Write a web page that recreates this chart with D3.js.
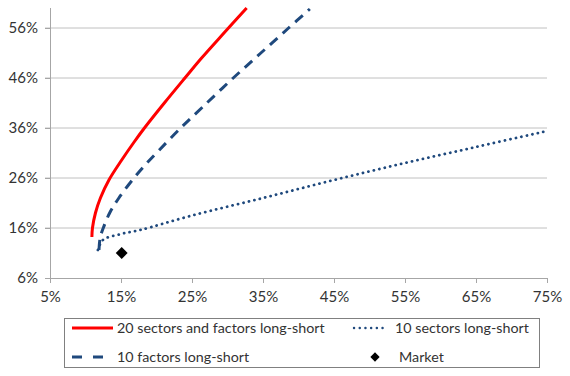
<!DOCTYPE html>
<html>
<head>
<meta charset="utf-8">
<script src="https://cdn.jsdelivr.net/npm/d3@7"></script>
<style>
  body { margin: 0; background: #fff; }
  text { font-family: Lato, sans-serif; fill: #333; }
</style>
</head>
<body>
<svg id="chart" width="570" height="376"></svg>
<script>
// risk (x, %) vs return (y, %)
const sectorsFactors = [[10.9,14.2],[10.98,16],[11.4,19],[12.1,22],[13.3,25.6],[15.1,29.6],[16.75,33],[18.3,36],[21.1,41],[24,46],[26.35,50],[29.5,55],[32.7,60]];
const factors = [[11.9,11.6],[12.06,14],[12.5,16],[13.4,19],[14.7,22],[16.6,25.6],[18.4,28.6],[20.4,31.6],[23.4,36],[26.5,40.2],[30.5,45.6],[34.7,51],[38.6,56],[41.6,59.8]];
const sectors = [[11.75,11.6],[12.45,13.6],[15,14.8],[17.7,15.6],[25,18.5],[35,22],[45,25.6],[55,29],[65,32.2],[75,35.4]];
const market = [[15.1,11]];
const xTicks = [5,15,25,35,45,55,65,75];
const yTicks = [6,16,26,36,46,56];

const svg = d3.select("#chart");
const x = d3.scaleLinear().domain([5, 75]).range([50, 547]);
const y = d3.scaleLinear().domain([6, 60]).range([278, 8]);

// gridlines
svg.append("g")
    .selectAll("line")
    .data(yTicks.slice(1))
    .enter()
    .append("line")
    .attr("x1", 45).attr("x2", 547)
    .attr("y1", d => y(d)).attr("y2", d => y(d))
    .attr("stroke", "#c0c0c0").attr("stroke-width", 1);

// y axis
const yAxis = svg.append("g")
    .attr("transform", "translate(50,0)")
    .call(d3.axisLeft(y).tickValues(yTicks).tickFormat(d => d + "%").tickSize(5).tickPadding(7));
yAxis.select(".domain").attr("stroke", "#a6a6a6");
yAxis.selectAll(".tick line").attr("stroke", "#a6a6a6");
yAxis.selectAll("text").attr("font-size", 15).attr("fill", "#333");
yAxis.select(".domain").attr("d", "M0.5," + y(60) + "V" + y(6));

// x axis
const xAxis = svg.append("g")
    .attr("transform", "translate(0,278)")
    .call(d3.axisBottom(x).tickValues(xTicks).tickFormat(d => d + "%").tickSize(5).tickSizeOuter(0).tickPadding(8));
xAxis.select(".domain").attr("stroke", "#a6a6a6");
xAxis.selectAll(".tick line").attr("stroke", "#a6a6a6");
xAxis.selectAll("text").attr("font-size", 15).attr("fill", "#333");

const line = d3.line().x(d => x(d[0])).y(d => y(d[1])).curve(d3.curveCatmullRom);

svg.append("path").datum(sectors)
    .attr("d", line)
    .attr("fill", "none").attr("stroke", "#1f497d").attr("stroke-width", 2.8)
    .attr("stroke-dasharray", "0.1 5.5").attr("stroke-linecap", "round");

svg.append("path").datum(factors)
    .attr("d", line)
    .attr("fill", "none").attr("stroke", "#1f497d").attr("stroke-width", 3)
    .attr("stroke-dasharray", "10 7");

svg.append("path").datum(sectorsFactors)
    .attr("d", line)
    .attr("fill", "none").attr("stroke", "#ff0000").attr("stroke-width", 3);

svg.selectAll("path.market")
    .data(market)
    .enter()
    .append("path")
    .attr("class", "market")
    .attr("transform", d => `translate(${x(d[0])},${y(d[1])})`)
    .attr("d", d3.symbol(d3.symbolDiamond2, 90))
    .attr("fill", "#000");

// legend
const legend = svg.append("g");
legend.append("rect")
    .attr("x", 64.5).attr("y", 318.5).attr("width", 475).attr("height", 49)
    .attr("fill", "#fff").attr("stroke", "#808080");

const items = [
    { label: "20 sectors and factors long-short", x: 72, y: 328, type: "solid" },
    { label: "10 sectors long-short", x: 353, y: 328, type: "dot" },
    { label: "10 factors long-short", x: 72, y: 357, type: "dash" },
    { label: "Market", x: 353, y: 357, type: "marker" }
];

items.forEach(d => {
    const g = legend.append("g");
    if (d.type === "solid") {
        g.append("line").attr("x1", d.x).attr("x2", d.x + 41).attr("y1", d.y).attr("y2", d.y)
            .attr("stroke", "#ff0000").attr("stroke-width", 3);
    } else if (d.type === "dash") {
        g.append("line").attr("x1", d.x).attr("x2", d.x + 31).attr("y1", d.y).attr("y2", d.y)
            .attr("stroke", "#1f497d").attr("stroke-width", 3).attr("stroke-dasharray", "10 11");
    } else if (d.type === "dot") {
        g.append("line").attr("x1", d.x + 1).attr("x2", d.x + 35).attr("y1", d.y).attr("y2", d.y)
            .attr("stroke", "#1f497d").attr("stroke-width", 2.4).attr("stroke-linecap", "round")
            .attr("stroke-dasharray", "0.1 5.6");
    } else {
        g.append("path").attr("transform", `translate(${d.x + 22},${d.y})`)
            .attr("d", d3.symbol(d3.symbolDiamond2, 55)).attr("fill", "#000");
    }
    g.append("text")
        .attr("x", d.type === "marker" ? d.x + 46 : (d.type === "dot" ? d.x + 42 : d.x + 45))
        .attr("y", d.y).attr("dy", "0.35em")
        .attr("font-size", 14.3)
        .text(d.label);
});
</script>
</body>
</html>
